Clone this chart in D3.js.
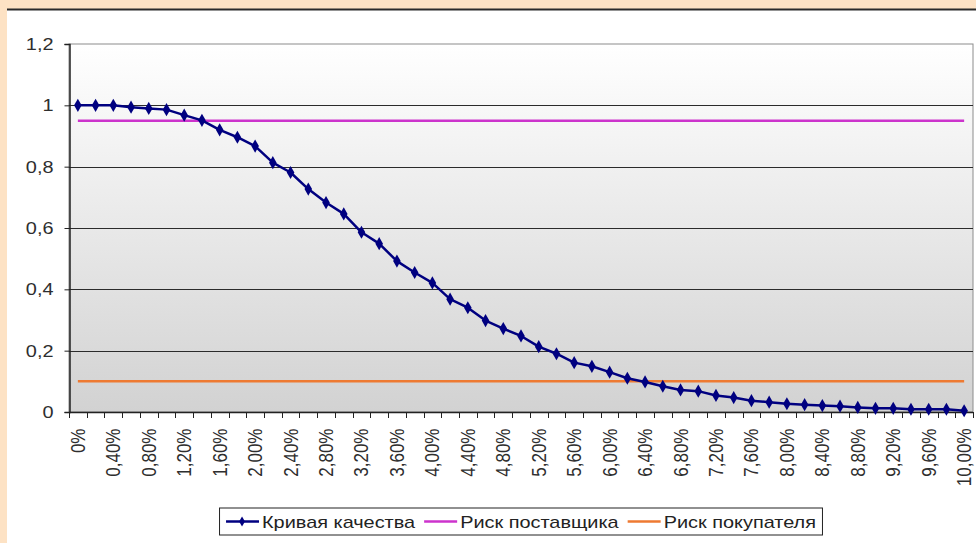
<!DOCTYPE html>
<html>
<head>
<meta charset="utf-8">
<script src="https://cdn.jsdelivr.net/npm/d3@7"></script>
<style>
  html, body { margin: 0; padding: 0; background: #fde2c4; }
  svg { display: block; }
  text { font-family: "Liberation Sans", Arial, sans-serif; }
</style>
</head>
<body>
<svg id="chart" width="976" height="543"></svg>
<script>
// Доля дефектных изделий в партии (категории оси X)
const categories = ["0%","0,20%","0,40%","0,60%","0,80%","1,00%","1,20%","1,40%","1,60%","1,80%",
  "2,00%","2,20%","2,40%","2,60%","2,80%","3,00%","3,20%","3,40%","3,60%","3,80%",
  "4,00%","4,20%","4,40%","4,60%","4,80%","5,00%","5,20%","5,40%","5,60%","5,80%",
  "6,00%","6,20%","6,40%","6,60%","6,80%","7,00%","7,20%","7,40%","7,60%","7,80%",
  "8,00%","8,20%","8,40%","8,60%","8,80%","9,00%","9,20%","9,40%","9,60%","9,80%","10,00%"];

// Оперативная характеристика плана контроля — вероятность приёмки партии
const qualityCurve = [1.000, 1.000, 1.000, 0.994, 0.990, 0.986, 0.968, 0.951, 0.920, 0.896,
  0.867, 0.813, 0.781, 0.727, 0.683, 0.646, 0.586, 0.549, 0.492, 0.455,
  0.421, 0.368, 0.340, 0.298, 0.272, 0.248, 0.213, 0.190, 0.161, 0.149,
  0.130, 0.110, 0.098, 0.084, 0.072, 0.068, 0.054, 0.047, 0.037, 0.032,
  0.027, 0.024, 0.021, 0.019, 0.015, 0.012, 0.012, 0.009, 0.009, 0.009, 0.004];

// Уровни риска поставщика и покупателя
const supplierRisk = 0.95;
const buyerRisk = 0.1;

const yTicks = [0, 0.2, 0.4, 0.6, 0.8, 1, 1.2];
const seriesNames = ["Кривая качества", "Риск поставщика", "Риск покупателя"];
const seriesColors = ["#000080", "#cc33cc", "#ee7a32"];

// Шрифт подписей чуть растянут по горизонтали
const STRETCH = 1.17;
const FONT = 17;

const svg = d3.select("#chart");

// Белая подложка диаграммы и верхняя рамка слайда
svg.append("rect").attr("x", 7).attr("y", 9).attr("width", 969).attr("height", 534).attr("fill", "#ffffff");
svg.append("line").attr("x1", 7).attr("x2", 976).attr("y1", 9.5).attr("y2", 9.5)
  .attr("stroke", "#2a2a2a").attr("stroke-width", 2);

const plot = { left: 69, right: 973, top: 44, bottom: 412 };

const x = d3.scaleBand().domain(categories).range([plot.left, plot.right]).padding(0);
const xc = d => x(d) + x.bandwidth() / 2;
const y = d3.scaleLinear().domain([0, 1.2]).range([plot.bottom, plot.top]);

// Градиентный фон области построения
const defs = svg.append("defs");
const grad = defs.append("linearGradient").attr("id", "plotBg")
  .attr("x1", 0).attr("y1", 0).attr("x2", 0).attr("y2", 1);
grad.append("stop").attr("offset", "0%").attr("stop-color", "#ffffff");
grad.append("stop").attr("offset", "100%").attr("stop-color", "#d2d2d2");

svg.append("rect")
  .attr("x", plot.left).attr("y", plot.top)
  .attr("width", plot.right - plot.left).attr("height", plot.bottom - plot.top)
  .attr("fill", "url(#plotBg)")
  .attr("stroke", "#8c8c8c").attr("stroke-width", 1);

// Линии сетки
svg.append("g").selectAll("line")
  .data(yTicks.filter(v => v > 0 && v < 1.2))
  .join("line")
  .attr("x1", plot.left).attr("x2", plot.right)
  .attr("y1", d => Math.round(y(d)) + 0.5).attr("y2", d => Math.round(y(d)) + 0.5)
  .attr("stroke", "#2b2b2b").attr("stroke-width", 1);

// Ось Y
const fmt = d => String(+d.toFixed(1)).replace(".", ",");
const yAxis = svg.append("g")
  .attr("transform", `translate(${plot.left + 0.5},0)`)
  .call(d3.axisLeft(y).tickValues(yTicks).tickFormat(fmt).tickSize(5).tickPadding(0));
yAxis.select(".domain").attr("stroke", "#222").attr("stroke-width", 1.5);
yAxis.selectAll(".tick line").attr("stroke", "#222");
yAxis.selectAll(".tick text")
  .attr("font-size", FONT).attr("fill", "#2e2e2e")
  .attr("font-family", "'Liberation Sans', Arial, sans-serif")
  .attr("x", 0)
  .attr("transform", `translate(-16,0) scale(${STRETCH},1)`);

// Ось X: подписи каждой второй категории, штрихи на границах категорий
const xAxis = svg.append("g")
  .attr("transform", `translate(0,${plot.bottom + 0.5})`)
  .call(d3.axisBottom(x).tickValues(categories.filter((d, i) => i % 2 === 0)).tickSize(0).tickPadding(0));
xAxis.select(".domain").remove();
xAxis.selectAll(".tick text")
  .attr("font-size", FONT).attr("fill", "#2e2e2e")
  .attr("font-family", "'Liberation Sans', Arial, sans-serif")
  .attr("text-anchor", "end")
  .attr("dy", null).attr("y", 0)
  .attr("transform", `translate(7,16) scale(${STRETCH},1) rotate(-90)`);

svg.append("line")
  .attr("x1", plot.left).attr("x2", plot.right)
  .attr("y1", plot.bottom + 0.5).attr("y2", plot.bottom + 0.5)
  .attr("stroke", "#222").attr("stroke-width", 1.5);

const edges = categories.map(c => x(c)).concat([plot.right]);
svg.append("g").selectAll("line").data(edges).join("line")
  .attr("x1", d => Math.round(d) + 0.5).attr("x2", d => Math.round(d) + 0.5)
  .attr("y1", plot.bottom).attr("y2", plot.bottom + 6)
  .attr("stroke", "#222").attr("stroke-width", 1);

// Горизонтальные линии рисков
const first = categories[0], last = categories[categories.length - 1];
svg.append("line")
  .attr("x1", xc(first)).attr("x2", xc(last))
  .attr("y1", y(supplierRisk)).attr("y2", y(supplierRisk))
  .attr("stroke", seriesColors[1]).attr("stroke-width", 2.5);
svg.append("line")
  .attr("x1", xc(first)).attr("x2", xc(last))
  .attr("y1", y(buyerRisk)).attr("y2", y(buyerRisk))
  .attr("stroke", seriesColors[2]).attr("stroke-width", 2.5);

// Кривая качества с маркерами-ромбами
const line = d3.line().x((d, i) => xc(categories[i])).y(d => y(d));
svg.append("path").datum(qualityCurve)
  .attr("d", line).attr("fill", "none")
  .attr("stroke", seriesColors[0]).attr("stroke-width", 2.5).attr("stroke-linejoin", "round");

const diamond = d3.symbol().type(d3.symbolDiamond).size(50);
svg.append("g").selectAll("path").data(qualityCurve).join("path")
  .attr("d", diamond)
  .attr("transform", (d, i) => `translate(${xc(categories[i])},${y(d)})`)
  .attr("fill", seriesColors[0]);

// Легенда
const legend = svg.append("g");
const box = legend.append("rect").attr("fill", "#fff").attr("stroke", "#222").attr("stroke-width", 1);
let cx = 0;
seriesNames.forEach((name, i) => {
  const g = legend.append("g").attr("transform", `translate(${cx},0)`);
  g.append("line").attr("x1", 0).attr("x2", 33).attr("y1", 0).attr("y2", 0)
    .attr("stroke", seriesColors[i]).attr("stroke-width", 2.5);
  if (i === 0) {
    g.append("path").attr("d", d3.symbol().type(d3.symbolDiamond).size(30))
      .attr("transform", "translate(16,0)").attr("fill", seriesColors[0]);
  }
  const t = g.append("text").attr("x", 0).attr("y", 6).attr("font-size", FONT).attr("fill", "#222")
    .attr("transform", `translate(36,0) scale(${STRETCH},1)`).text(name);
  const w = t.node().getComputedTextLength() * STRETCH;
  cx += 36 + w + 9;
});
const totalW = cx - 9;
const legendX = (plot.left + plot.right) / 2 - totalW / 2;
legend.attr("transform", `translate(${legendX},521.5)`);
box.attr("x", -6.5).attr("y", -13.5).attr("width", totalW + 13).attr("height", 27);
</script>
</body>
</html>
